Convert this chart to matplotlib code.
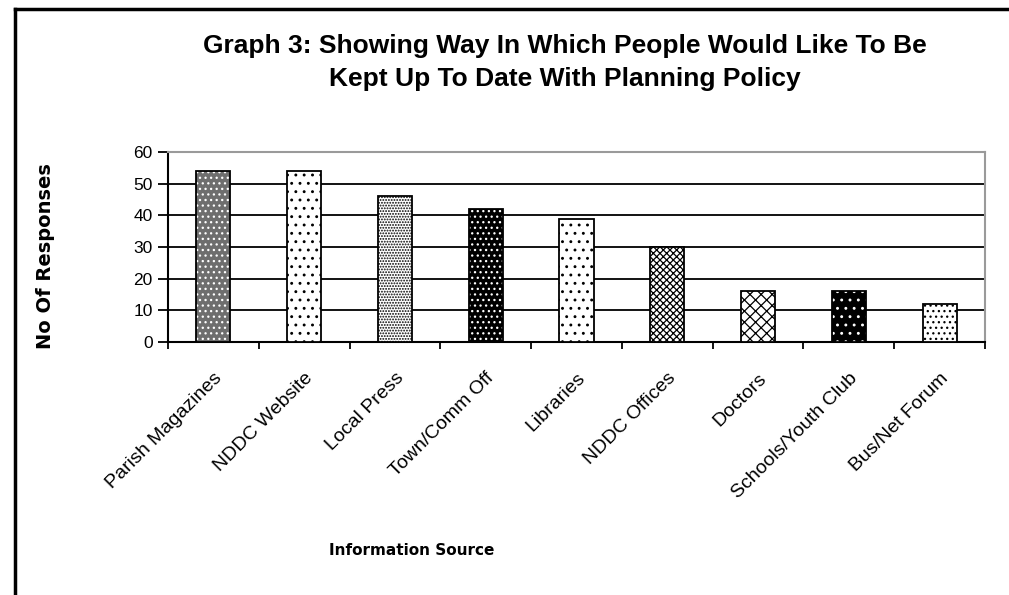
import matplotlib
matplotlib.use('Agg')
import matplotlib.pyplot as plt
import numpy as np
from matplotlib.lines import Line2D

# Data
sources = ['Parish Magazines', 'NDDC Website', 'Local Press', 'Town/Comm Off', 'Libraries',
           'NDDC Offices', 'Doctors', 'Schools/Youth Club', 'Bus/Net Forum']
responses = [54, 54, 46, 42, 39, 30, 16, 16, 12]
y_ticks = [0, 10, 20, 30, 40, 50, 60]

# fill style for each bar: face colour, hatch, hatch colour
faces = ['#6e6e6e', 'white', 'white', 'black', 'white', 'white', 'white', 'black', 'white']
hatches = ['...', '..', '......', '...', '..', 'xxxxx', 'xxx', '..', '...']
hatch_cols = ['white', 'black', 'black', 'white', 'black', 'black', 'black', 'white', 'black']

plt.rcParams['font.family'] = ['Liberation Sans', 'DejaVu Sans']
plt.rcParams['hatch.linewidth'] = 0.9

fig = plt.figure(figsize=(10.09, 5.95), dpi=100)
ax = fig.add_axes([0.1665, 0.4252, 0.8097, 0.3193])

x = np.arange(len(sources))
width = 0.375

# filled + hatched bars, then black outlines on top
for i in range(len(sources)):
    ax.bar(x[i], responses[i], width, color=faces[i], hatch=hatches[i],
           edgecolor=hatch_cols[i], linewidth=0, zorder=3)
ax.bar(x, responses, width, fill=False, edgecolor='black', linewidth=1.3, zorder=4)

ax.set_xlim(-0.5, len(sources) - 0.5)
ax.set_ylim(0, 60)
ax.set_yticks(y_ticks)
ax.set_yticklabels([str(v) for v in y_ticks], fontsize=12.5)
for v in y_ticks[1:-1]:
    ax.axhline(v, color='black', linewidth=1.3, zorder=1)

# ticks at category boundaries, labels at centres
ax.set_xticks(np.arange(len(sources) + 1) - 0.5)
ax.set_xticklabels([])
ax.set_xticks(x, minor=True)
ax.set_xticklabels(sources, minor=True, rotation=45, ha='right', va='top',
                   rotation_mode='anchor', fontsize=14)
ax.tick_params(axis='x', which='minor', length=0, pad=20)
ax.tick_params(axis='x', which='major', length=5, width=1.3, direction='out')
ax.tick_params(axis='y', length=7, width=1.3, direction='out', pad=4)

for s in ['left', 'bottom']:
    ax.spines[s].set_linewidth(1.5)
for s in ['top', 'right']:
    ax.spines[s].set_color('#9a9a9a')
    ax.spines[s].set_linewidth(1.5)

fig.text(0.56, 0.895, 'Graph 3: Showing Way In Which People Would Like To Be\nKept Up To Date With Planning Policy',
         ha='center', va='center', fontsize=19, fontweight='bold', linespacing=1.5)
fig.text(0.045, 0.57, 'No Of Responses', rotation=90, ha='center', va='center',
         fontsize=14, fontweight='bold', family=['DejaVu Sans'])
fig.text(0.408, 0.075, 'Information Source', ha='center', va='center',
         fontsize=11, fontweight='bold', family=['DejaVu Sans'])

# chart frame edges (only top and left are visible)
fig.add_artist(Line2D([15 / 1009, 15 / 1009], [0, 1 - 9 / 595], color='black', linewidth=2.5))
fig.add_artist(Line2D([15 / 1009, 1], [1 - 9 / 595, 1 - 9 / 595], color='black', linewidth=2.5))

fig.savefig('out.png', dpi=100)
